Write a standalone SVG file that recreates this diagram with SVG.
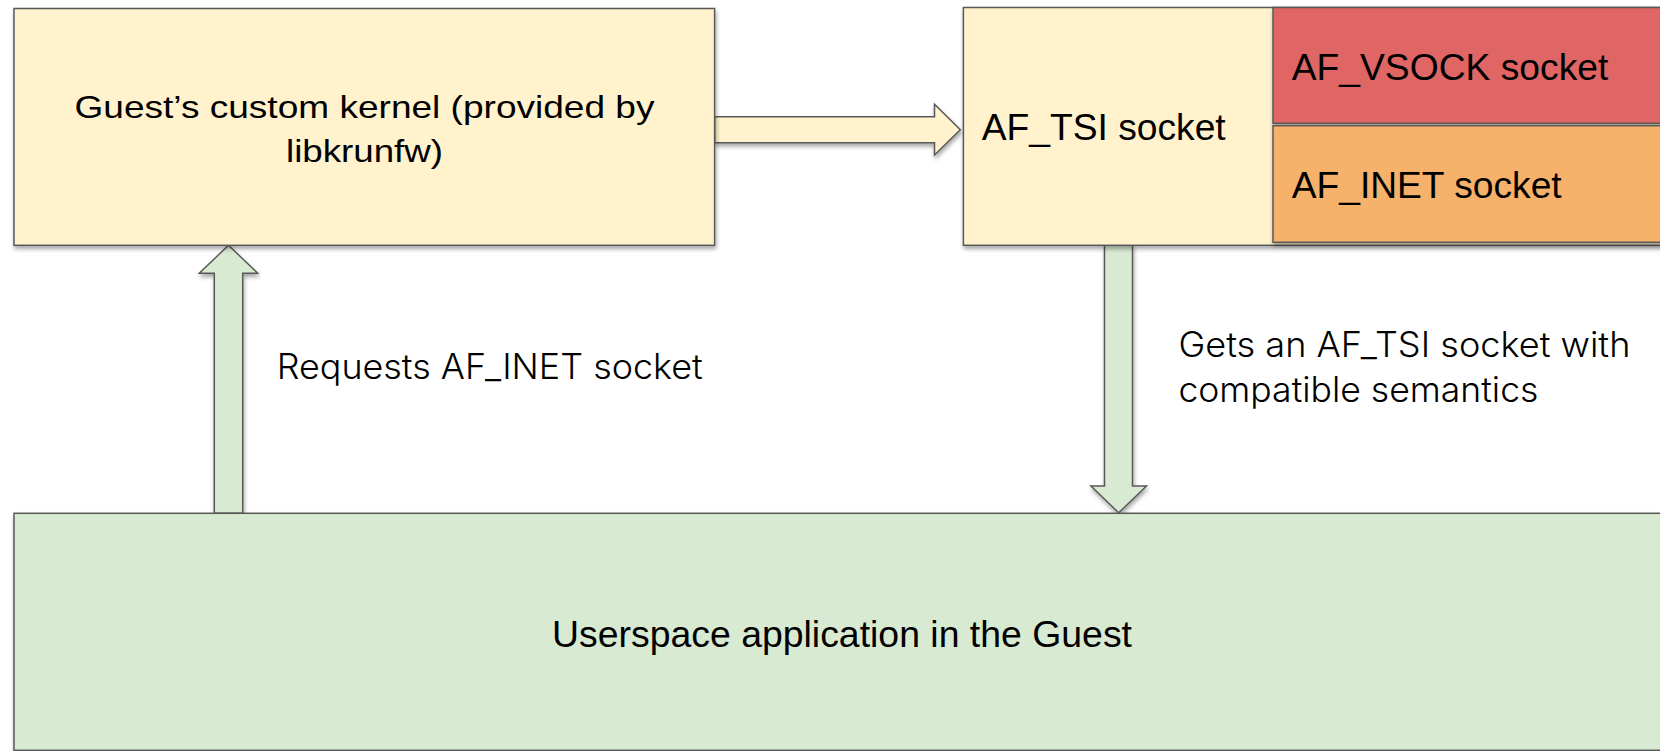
<svg xmlns="http://www.w3.org/2000/svg" width="1660" height="751" viewBox="0 0 1660 751">
  <defs>
    <filter id="shadow" x="-5%" y="-5%" width="110%" height="120%">
      <feDropShadow dx="1" dy="3" stdDeviation="2" flood-color="#000" flood-opacity="0.35"/>
    </filter>
    <style>
      .box { stroke: #595959; stroke-width: 1.5; filter: url(#shadow); }
      .kernel { fill: #fff2cc; }
      .vsock { fill: #e06666; }
      .inet { fill: #f6b26b; }
      .app { fill: #d9ead3; }
      .arrow { stroke: #595959; stroke-width: 1.5; stroke-linejoin: miter; filter: url(#shadow); }
      .yellow { fill: #fff2cc; }
      .green { fill: #d9ead3; }
      .node-text { font-family: "Liberation Sans", Arial, sans-serif; fill: #000; }
      .label { font-family: Inter, "Open Sans", sans-serif; font-size: 35px; font-weight: 300; fill: #000; }
    </style>
  </defs>

  <!-- Block arrows between the layers -->
  <g id="connectors">
    <!-- kernel to AF_TSI socket -->
    <path class="arrow yellow" d="M714.6,116.7 H934.5 V104.3 L960.3,129.7 L934.5,155 V142.7 H714.6 Z"/>
    <!-- application requests socket from kernel -->
    <path class="arrow green" d="M214.3,513.3 V273.3 H199.3 L228.5,245.3 L257.7,273.3 H242.7 V513.3 Z"/>
    <!-- AF_TSI socket handed back to application -->
    <path class="arrow green" d="M1104.5,245.3 V486 H1090.9 L1118.7,512.7 L1146.5,486 H1132.5 V245.3 Z"/>
  </g>

  <g id="kernel">
    <rect class="box kernel" x="14" y="8.5" width="700.6" height="236.8"/>
    <text class="node-text" font-size="31.5" x="364.5" y="117.7" text-anchor="middle" textLength="580" lengthAdjust="spacingAndGlyphs">Guest’s custom kernel (provided by</text>
    <text class="node-text" font-size="31.5" x="364.5" y="161.7" text-anchor="middle" textLength="157" lengthAdjust="spacingAndGlyphs">libkrunfw)</text>
  </g>

  <g id="tsi-socket">
    <rect class="box kernel" x="963.4" y="7.5" width="720" height="237.8"/>
    <text class="node-text" font-size="36" x="981.7" y="140" textLength="244" lengthAdjust="spacingAndGlyphs">AF_TSI socket</text>
  </g>

  <g id="vsock-socket">
    <rect class="box vsock" x="1273" y="7.5" width="410" height="115.8"/>
    <text class="node-text" font-size="36" x="1291.7" y="80" textLength="316.7" lengthAdjust="spacingAndGlyphs">AF_VSOCK socket</text>
  </g>

  <g id="inet-socket">
    <rect class="box inet" x="1273" y="125.7" width="410" height="116.6"/>
    <text class="node-text" font-size="36" x="1291.7" y="197.7" textLength="270" lengthAdjust="spacingAndGlyphs">AF_INET socket</text>
  </g>

  <g id="userspace-app">
    <rect class="box app" x="14" y="513.3" width="1660" height="237"/>
    <text class="node-text" font-size="37.5" x="842" y="646.7" text-anchor="middle" textLength="580" lengthAdjust="spacingAndGlyphs">Userspace application in the Guest</text>
  </g>

  <g id="labels">
    <text class="label" x="276.7" y="379" textLength="426" lengthAdjust="spacingAndGlyphs">Requests AF_INET socket</text>
    <text class="label" x="1178.4" y="356.7" textLength="452" lengthAdjust="spacingAndGlyphs">Gets an AF_TSI socket with</text>
    <text class="label" x="1178.4" y="401.7" textLength="360" lengthAdjust="spacingAndGlyphs">compatible semantics</text>
  </g>
</svg>
